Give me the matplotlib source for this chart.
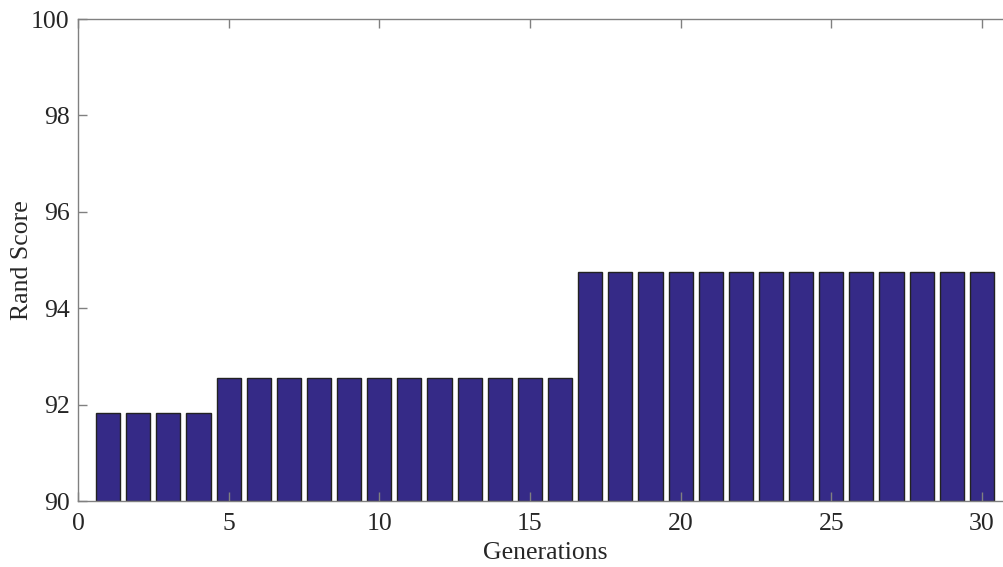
import numpy as np
import matplotlib
matplotlib.use('Agg')
import matplotlib.pyplot as plt

# bar heights
generations = list(range(1, 31))
rand_score = [91.82, 91.83, 91.82, 91.83] + [92.56] * 12 + [94.76] * 14

plt.rcParams['font.family'] = ['Liberation Serif', 'DejaVu Serif']

fig = plt.figure(figsize=(10.04, 5.67), dpi=100)
ax = fig.add_axes([78 / 1004, 1 - 501 / 567, (1012 - 78) / 1004, (501 - 19) / 567])

ax.bar(generations, np.array(rand_score) - 90, bottom=90, width=0.8,
       color='#352A87', edgecolor='#222222', linewidth=1.0)

ax.set_xlim(0, 31)
ax.set_ylim(90, 100)
ax.set_xticks([0, 5, 10, 15, 20, 25, 30])
ax.set_yticks([90, 92, 94, 96, 98, 100])

for s in ax.spines.values():
    s.set_color('#808080')
    s.set_linewidth(1.0)
ax.tick_params(direction='in', length=6.5, width=1, color='#808080',
               top=True, right=True, labelsize=18.5, labelcolor='#262626')
ax.tick_params(axis='x', pad=9)
ax.tick_params(axis='y', pad=6)

ax.set_xlabel('Generations', fontsize=18.5, color='#262626', va='center')
ax.set_ylabel('Rand Score', fontsize=18.5, color='#262626', va='center')
ax.xaxis.set_label_coords(0.5 - 0.0, -0.108)
ax.yaxis.set_label_coords(-0.06, 0.5)
# x label centred under 0..31 axis in the reference at about x=545
ax.xaxis.set_label_coords((545 - 78) / 934, -0.108)

fig.savefig('out.png', dpi=100)
